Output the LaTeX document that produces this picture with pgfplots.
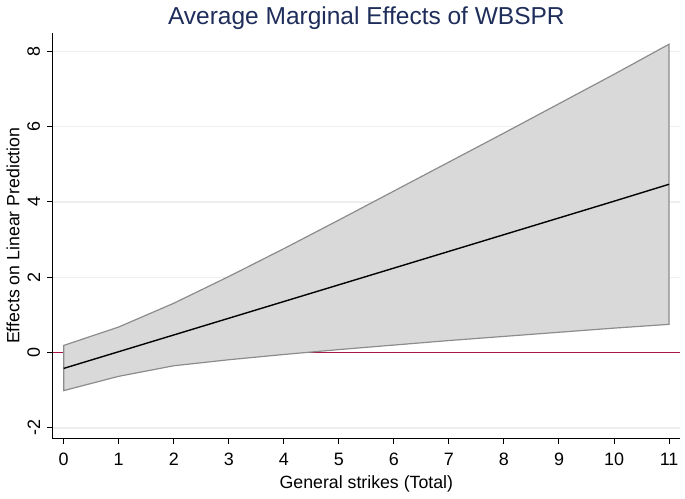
\documentclass[border=0pt]{standalone}
\usepackage{pgfplots}
\pgfplotsset{compat=1.18}
\usepackage{fontspec}
\setmainfont{Liberation Sans}
\definecolor{titleblue}{RGB}{30,45,90}
\definecolor{bandfill}{RGB}{217,217,217}
\definecolor{bandline}{RGB}{140,140,140}
\definecolor{zerored}{RGB}{170,20,70}
\definecolor{gridc}{RGB}{238,238,238}
\begin{document}
\begin{tikzpicture}
\begin{axis}[
  scale only axis,
  width=315pt, height=204pt,
  xmin=-0.2, xmax=11.2, ymin=-2.29, ymax=8.5,
  axis x line*=bottom, axis y line*=left,
  axis line style={-, line width=0.6pt, black},
  xtick={0,1,...,11}, ytick={-2,0,2,4,6,8},
  tick align=outside, major tick length=2.8pt,
  tick style={black, line width=0.5pt},
  ymajorgrids, grid style={gridc, line width=0.6pt},
  /pgf/number format/assume math mode=true,
  ticklabel style={font=\fontsize{9}{10}\selectfont},
  xticklabel style={yshift=-1pt},
  yticklabel style={rotate=90, anchor=south},
  xlabel={General strikes (Total)},
  ylabel={Effects on Linear Prediction},
  label style={font=\fontsize{8.9}{10}\selectfont},
  xlabel style={yshift=2pt},
  ylabel style={yshift=-3pt},
  title={Average Marginal Effects of WBSPR},
  title style={font=\fontsize{12.3}{14}\selectfont, color=titleblue, yshift=-8pt},
  clip=false,
]
\addplot[draw=zerored, line width=0.9pt, forget plot] table {
x y
-0.2 0
11.2 0
};
\addplot[fill=bandfill, draw=bandline, line width=0.6pt] coordinates {
 (0,0.19) (1,0.68) (2,1.31) (3,2.02) (4,2.76) (5,3.52) (6,4.29) (7,5.06) (8,5.83) (9,6.61) (10,7.39) (11,8.19)
 (11,0.75) (10,0.65) (9,0.54) (8,0.43) (7,0.32) (6,0.20) (5,0.08) (4,-0.05) (3,-0.19) (2,-0.35) (1,-0.63) (0,-1.01)
} -- cycle;
\addplot[black, line width=0.7pt] coordinates {
 (0,-0.42) (1,0.024) (2,0.468) (3,0.912) (4,1.356) (5,1.80) (6,2.244) (7,2.688) (8,3.132) (9,3.576) (10,4.02) (11,4.47)
};
\end{axis}
\end{tikzpicture}
\end{document}
